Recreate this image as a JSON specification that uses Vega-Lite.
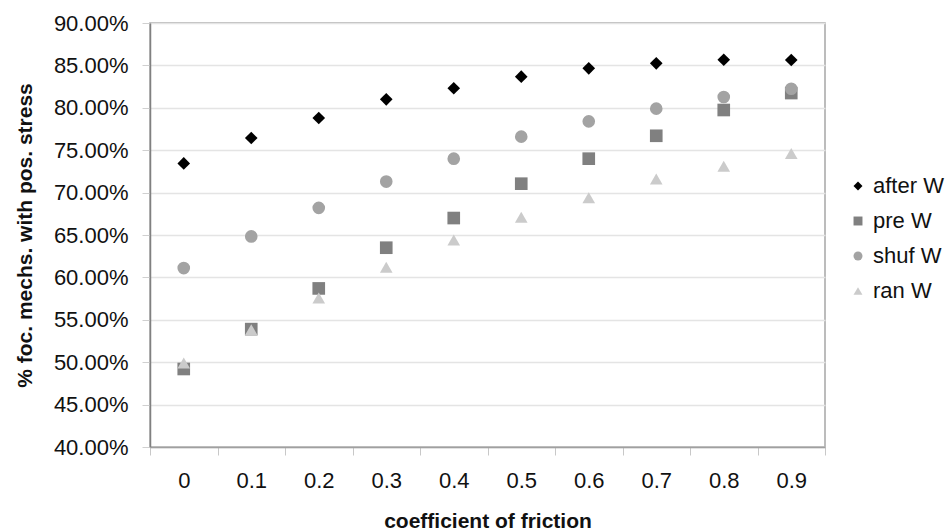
{
  "$schema": "https://vega.github.io/schema/vega-lite/v6.json",
  "autosize": {"type": "none"},
  "padding": {"left": 150, "top": 23, "right": 125, "bottom": 84},
  "width": 675,
  "height": 424,
  "background": "white",
  "config": {
    "font": "Liberation Sans",
    "view": {"stroke": "#a6a6a6", "strokeWidth": 1.5}
  },
  "data": {
    "values": [
      {"f": "0", "s": "after W", "v": 0.7344},
      {"f": "0.1", "s": "after W", "v": 0.7644},
      {"f": "0.2", "s": "after W", "v": 0.788},
      {"f": "0.3", "s": "after W", "v": 0.810},
      {"f": "0.4", "s": "after W", "v": 0.823},
      {"f": "0.5", "s": "after W", "v": 0.8367},
      {"f": "0.6", "s": "after W", "v": 0.8465},
      {"f": "0.7", "s": "after W", "v": 0.8524},
      {"f": "0.8", "s": "after W", "v": 0.8567},
      {"f": "0.9", "s": "after W", "v": 0.8564},
      {"f": "0", "s": "pre W", "v": 0.492},
      {"f": "0.1", "s": "pre W", "v": 0.539},
      {"f": "0.2", "s": "pre W", "v": 0.587},
      {"f": "0.3", "s": "pre W", "v": 0.635},
      {"f": "0.4", "s": "pre W", "v": 0.670},
      {"f": "0.5", "s": "pre W", "v": 0.7105},
      {"f": "0.6", "s": "pre W", "v": 0.740},
      {"f": "0.7", "s": "pre W", "v": 0.767},
      {"f": "0.8", "s": "pre W", "v": 0.7974},
      {"f": "0.9", "s": "pre W", "v": 0.8174},
      {"f": "0", "s": "shuf W", "v": 0.611},
      {"f": "0.1", "s": "shuf W", "v": 0.6483},
      {"f": "0.2", "s": "shuf W", "v": 0.682},
      {"f": "0.3", "s": "shuf W", "v": 0.713},
      {"f": "0.4", "s": "shuf W", "v": 0.740},
      {"f": "0.5", "s": "shuf W", "v": 0.766},
      {"f": "0.6", "s": "shuf W", "v": 0.784},
      {"f": "0.7", "s": "shuf W", "v": 0.799},
      {"f": "0.8", "s": "shuf W", "v": 0.8127},
      {"f": "0.9", "s": "shuf W", "v": 0.8225},
      {"f": "0", "s": "ran W", "v": 0.499},
      {"f": "0.1", "s": "ran W", "v": 0.5383},
      {"f": "0.2", "s": "ran W", "v": 0.5757},
      {"f": "0.3", "s": "ran W", "v": 0.612},
      {"f": "0.4", "s": "ran W", "v": 0.644},
      {"f": "0.5", "s": "ran W", "v": 0.671},
      {"f": "0.6", "s": "ran W", "v": 0.694},
      {"f": "0.7", "s": "ran W", "v": 0.716},
      {"f": "0.8", "s": "ran W", "v": 0.731},
      {"f": "0.9", "s": "ran W", "v": 0.746}
    ]
  },
  "mark": {"type": "point", "filled": true, "size": 160, "opacity": 1},
  "encoding": {
    "x": {
      "field": "f",
      "type": "ordinal",
      "sort": null,
      "scale": {"type": "band", "paddingInner": 0, "paddingOuter": 0},
      "axis": {
        "title": "coefficient of friction",
        "titleFontSize": 21,
        "titleFontWeight": "bold",
        "titleColor": "#111",
        "titlePadding": 19,
        "labelAngle": 0,
        "labelFontSize": 22,
        "labelColor": "#111",
        "labelPadding": 15,
        "tickBand": "extent",
        "tickSize": 8,
        "tickColor": "#c8c8c8",
        "domainColor": "#a0a0a0",
        "domainWidth": 1.5,
        "grid": false
      }
    },
    "y": {
      "field": "v",
      "type": "quantitative",
      "scale": {"domain": [0.4, 0.9], "nice": false, "zero": false},
      "axis": {
        "title": "% foc. mechs. with pos. stress",
        "titleFontSize": 21,
        "titleFontWeight": "bold",
        "titleColor": "#111",
        "titlePadding": 18,
        "format": ".2%",
        "values": [0.4, 0.45, 0.5, 0.55, 0.6, 0.65, 0.7, 0.75, 0.8, 0.85, 0.9],
        "labelFontSize": 22,
        "labelColor": "#111",
        "labelPadding": 14,
        "tickSize": 8,
        "tickColor": "#d0d0d0",
        "domainColor": "#808080",
        "domainWidth": 1.5,
        "gridColor": "#e4e4e4",
        "gridWidth": 1.5
      }
    },
    "shape": {
      "field": "s",
      "type": "nominal",
      "scale": {"domain": ["after W", "pre W", "shuf W", "ran W"], "range": ["diamond", "square", "circle", "triangle-up"]},
      "legend": null
    },
    "color": {
      "field": "s",
      "type": "nominal",
      "scale": {"domain": ["after W", "pre W", "shuf W", "ran W"], "range": ["#000000", "#808080", "#a3a3a3", "#cbcbcb"]},
      "legend": {
        "title": null,
        "orient": "none",
        "legendX": 697,
        "legendY": 152,
        "labelFontSize": 22,
        "labelColor": "#111",
        "symbolSize": 80,
        "rowPadding": 13,
        "labelOffset": 4,
        "symbolStrokeWidth": 0
      }
    }
  }
}
